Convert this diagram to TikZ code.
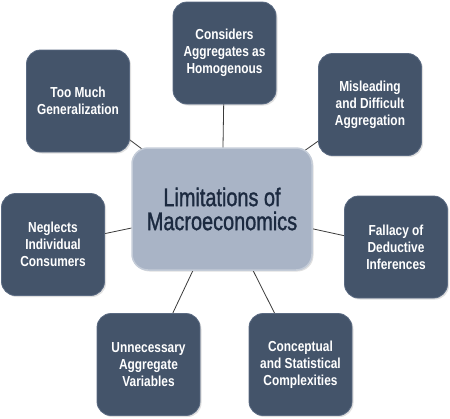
\documentclass[tikz,border=0pt]{standalone}
\usepackage{fontspec}
\setmainfont{Liberation Sans}
\newfontfamily\outerfont[FakeStretch=0.82]{Liberation Sans}
\newfontfamily\centerfont[FakeStretch=0.78,FakeBold=1.2]{Liberation Sans}
\usetikzlibrary{shadows}
\pgfdeclarelayer{bg}
\pgfsetlayers{bg,main}
\definecolor{outerfill}{HTML}{44546A}
\definecolor{outerline}{HTML}{5A6A82}
\definecolor{centerfill}{HTML}{A9B4C6}
\definecolor{centerline}{HTML}{C4CCD8}
\definecolor{centertext}{HTML}{1C2A40}
\definecolor{linkcol}{HTML}{3A3A3A}
\tikzset{
  outerbox/.style={rectangle, rounded corners=14pt, fill=outerfill, draw=outerline, line width=0.8pt,
    minimum width=103pt, minimum height=102pt, inner sep=0pt, align=center, text=white,
    font=\outerfont\bfseries\fontsize{14.5}{17}\selectfont,
    drop shadow={opacity=0.25, shadow xshift=1.5pt, shadow yshift=-1.5pt}},
  centerbox/.style={rectangle, rounded corners=16pt, fill=centerfill, draw=centerline, line width=1.5pt,
    minimum width=180pt, minimum height=122pt, inner sep=0pt, align=center, text=centertext,
    font=\centerfont\fontsize{25.5}{24}\selectfont,
    drop shadow={opacity=0.25, shadow xshift=1.5pt, shadow yshift=-1.5pt}},
  link/.style={draw=linkcol, line width=0.8pt}
}
\begin{document}
\begin{tikzpicture}[x=1pt, y=-1pt]
\useasboundingbox (0,0) rectangle (450,418);
\node[centerbox] (c) at (222,209) {Limitations of\\Macroeconomics};
\node[outerbox] (t) at (224.5,53) {Considers\\Aggregates as\\Homogenous};
\node[outerbox] (tl) at (78,101) {Too Much\\Generalization};
\node[outerbox] (tr) at (370,104.5) {Misleading\\and Difficult\\Aggregation};
\node[outerbox] (l) at (53,244.5) {Neglects\\Individual\\Consumers};
\node[outerbox] (r) at (396,247) {Fallacy of\\Deductive\\Inferences};
\node[outerbox] (bl) at (148.5,364.5) {Unnecessary\\Aggregate\\Variables};
\node[outerbox] (br) at (300.5,364.5) {Conceptual\\and Statistical\\Complexities};
\begin{pgfonlayer}{bg}
\foreach \n in {t,tl,tr,l,r,bl,br}{
  \draw[link] (c.center) -- (\n.center);
}
\end{pgfonlayer}
\end{tikzpicture}
\end{document}
